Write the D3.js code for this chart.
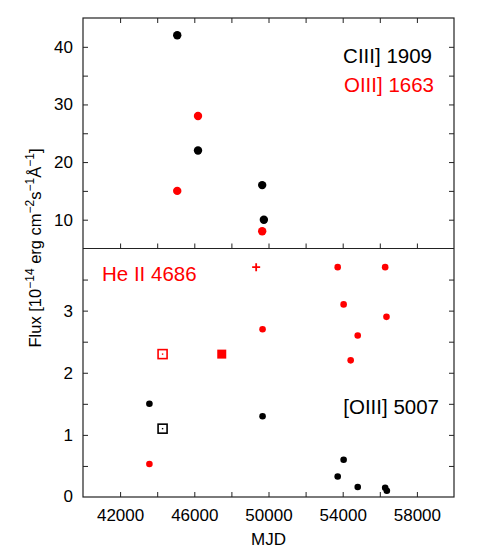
<!DOCTYPE html>
<html>
<head>
<meta charset="utf-8">
<script src="https://cdn.jsdelivr.net/npm/d3@7"></script>
<style>
  body { margin: 0; background: #fff; }
  text { font-family: "Liberation Sans", Arial, sans-serif; }
</style>
</head>
<body>
<div id="chart"></div>
<script>
// upper panel: UV lines
let ciiiMjd = [45080, 46200, 49660, 49750];
let ciiiFlux = [42, 22, 16, 10];
let oiii1663Mjd = [45080, 46200, 49660];
let oiii1663Flux = [15, 28, 8];

// lower panel: He II 4686 (red)
let heiiMjd = [43580, 49680, 53730, 54050, 54430, 54810, 56290, 56360];
let heiiFlux = [0.53, 2.7, 3.7, 3.1, 2.2, 2.6, 3.7, 2.9];
let heiiOpenSq = [[44290, 2.3]];
let heiiFilledSq = [[47480, 2.3]];
let heiiPlus = [[49335, 3.7]];

// lower panel: [OIII] 5007 (black)
let oiii5007Mjd = [43580, 49680, 53730, 54050, 54810, 56290, 56380];
let oiii5007Flux = [1.5, 1.3, 0.33, 0.6, 0.16, 0.15, 0.1];
let oiii5007OpenSq = [[44290, 1.1]];

let xTickLabels = [42000, 46000, 50000, 54000, 58000];
let upperTickLabels = [10, 20, 30, 40];
let lowerTickLabels = [0, 1, 2, 3];

let width = 500, height = 550;
let padL = 83, padR = 454, padT = 18, padMid = 248.5, padB = 497;
let tickLen = 5;
let tickFont = 17, labelFont = 20.5;

let svg = d3.select('#chart').append('svg')
  .attr('width', width).attr('height', height);

let x = d3.scaleLinear().domain([40000, 60000]).range([padL, padR]);
let yTop = d3.scaleLinear().domain([5, 45]).range([padMid, padT]);
let yBot = d3.scaleLinear().domain([0, 4]).range([padB, padMid]);

let axisColor = '#222';
let fontFam = '"Liberation Sans", Arial, sans-serif';

function frame(y, ticksAll, labels) {
  let g = svg.append('g');
  // left axis
  g.append('g').attr('transform', 'translate(' + padL + ',0)')
    .call(d3.axisLeft(y).tickValues(ticksAll).tickSize(-tickLen)
      .tickFormat(d => labels.includes(d) ? d : '').tickPadding(10))
    .call(a => a.select('.domain').remove());
  // right axis
  g.append('g').attr('transform', 'translate(' + padR + ',0)')
    .call(d3.axisRight(y).tickValues(ticksAll).tickSize(-tickLen).tickFormat(''))
    .call(a => a.select('.domain').remove());
  g.selectAll('text').attr('font-size', tickFont).attr('fill', '#000')
    .attr('font-family', fontFam);
  g.selectAll('line').attr('stroke', axisColor);
  return g;
}

let xTicksAll = d3.range(42000, 60000, 2000);

// upper panel
frame(yTop, d3.range(10, 45, 5), upperTickLabels);
svg.append('g').attr('transform', 'translate(0,' + padT + ')')
  .call(d3.axisTop(x).tickValues(xTicksAll).tickSize(-tickLen).tickFormat(''))
  .call(a => a.select('.domain').remove())
  .selectAll('line').attr('stroke', axisColor);
svg.append('g').attr('transform', 'translate(0,' + padMid + ')')
  .call(d3.axisBottom(x).tickValues(xTicksAll).tickSize(tickLen).tickFormat(''))
  .call(a => a.select('.domain').remove())
  .selectAll('line').attr('y2', -tickLen).attr('stroke', axisColor);

// lower panel
frame(yBot, d3.range(0.5, 4, 0.5), lowerTickLabels);
let xAxis = svg.append('g').attr('transform', 'translate(0,' + padB + ')')
  .call(d3.axisBottom(x).tickValues(xTicksAll).tickSize(-tickLen)
    .tickFormat(d => xTickLabels.includes(d) ? d : '').tickPadding(12))
  .call(a => a.select('.domain').remove());
xAxis.selectAll('line').attr('stroke', axisColor);
xAxis.selectAll('text').attr('font-size', tickFont).attr('fill', '#000')
  .attr('font-family', fontFam);

// y=0 label for lower panel
svg.append('text').attr('x', padL - 10).attr('y', yBot(0)).attr('dy', '0.32em')
  .attr('text-anchor', 'end').attr('font-size', tickFont).text('0');

svg.append('rect').attr('x', padL).attr('y', padT)
  .attr('width', padR - padL).attr('height', padB - padT)
  .attr('fill', 'none').attr('stroke', axisColor).attr('stroke-width', 1.2);
svg.append('line').attr('x1', padL).attr('x2', padR)
  .attr('y1', padMid).attr('y2', padMid)
  .attr('stroke', axisColor).attr('stroke-width', 1.2);

// markers
function dots(xs, ys, yScale, r, color) {
  svg.append('g').selectAll('circle')
    .data(xs.map((d, i) => [d, ys[i]]))
    .join('circle')
    .attr('cx', d => x(d[0])).attr('cy', d => yScale(d[1]))
    .attr('r', r).attr('fill', color);
}
function openSquares(data, yScale, color) {
  let g = svg.append('g').selectAll('g').data(data).join('g')
    .attr('transform', d => 'translate(' + x(d[0]) + ',' + yScale(d[1]) + ')');
  g.append('rect').attr('x', -4.5).attr('y', -4.5).attr('width', 9).attr('height', 9)
    .attr('fill', 'none').attr('stroke', color).attr('stroke-width', 1.6);
  g.append('rect').attr('x', -0.7).attr('y', -0.7).attr('width', 1.4).attr('height', 1.4)
    .attr('fill', color);
}

dots(ciiiMjd, ciiiFlux, yTop, 4.2, '#000');
dots(oiii1663Mjd, oiii1663Flux, yTop, 4.2, '#f00');

dots(heiiMjd, heiiFlux, yBot, 3.3, '#f00');
dots(oiii5007Mjd, oiii5007Flux, yBot, 3.3, '#000');
openSquares(heiiOpenSq, yBot, '#f00');
openSquares(oiii5007OpenSq, yBot, '#000');

svg.append('g').selectAll('rect').data(heiiFilledSq).join('rect')
  .attr('x', d => x(d[0]) - 4.5).attr('y', d => yBot(d[1]) - 4.5)
  .attr('width', 9).attr('height', 9).attr('fill', '#f00');

svg.append('g').selectAll('path').data(heiiPlus).join('path')
  .attr('d', d => {
    let cx = x(d[0]), cy = yBot(d[1]);
    return 'M' + (cx - 4) + ',' + cy + 'H' + (cx + 4) + 'M' + cx + ',' + (cy - 4) + 'V' + (cy + 4);
  })
  .attr('stroke', '#f00').attr('stroke-width', 1.8);

// labels
svg.append('text').attr('x', 432).attr('y', 63).attr('text-anchor', 'end')
  .attr('font-size', labelFont).attr('fill', '#000').text('CIII] 1909');
svg.append('text').attr('x', 434).attr('y', 92).attr('text-anchor', 'end')
  .attr('font-size', labelFont).attr('fill', '#f00').text('OIII] 1663');
svg.append('text').attr('x', 102).attr('y', 281)
  .attr('font-size', labelFont).attr('fill', '#f00').text('He II 4686');
svg.append('text').attr('x', 439).attr('y', 414).attr('text-anchor', 'end')
  .attr('font-size', labelFont).attr('fill', '#000').text('[OIII] 5007');

svg.append('text').attr('x', (padL + padR) / 2).attr('y', 545)
  .attr('text-anchor', 'middle').attr('font-size', tickFont).text('MJD');

let yl = svg.append('text')
  .attr('transform', 'translate(41,248) rotate(-90)')
  .attr('text-anchor', 'middle').attr('font-size', 16.5);
yl.append('tspan').text('Flux [10');
yl.append('tspan').attr('dy', -7).attr('font-size', 12).text('\u221214');
yl.append('tspan').attr('dy', 7).text(' erg cm');
yl.append('tspan').attr('dy', -7).attr('font-size', 12).text('\u22122');
yl.append('tspan').attr('dy', 7).text('s');
yl.append('tspan').attr('dy', -7).attr('font-size', 12).text('\u22121');
yl.append('tspan').attr('dy', 7).text('\u00c5');
yl.append('tspan').attr('dy', -7).attr('font-size', 12).text('\u22121');
yl.append('tspan').attr('dy', 7).text(']');
</script>
</body>
</html>
